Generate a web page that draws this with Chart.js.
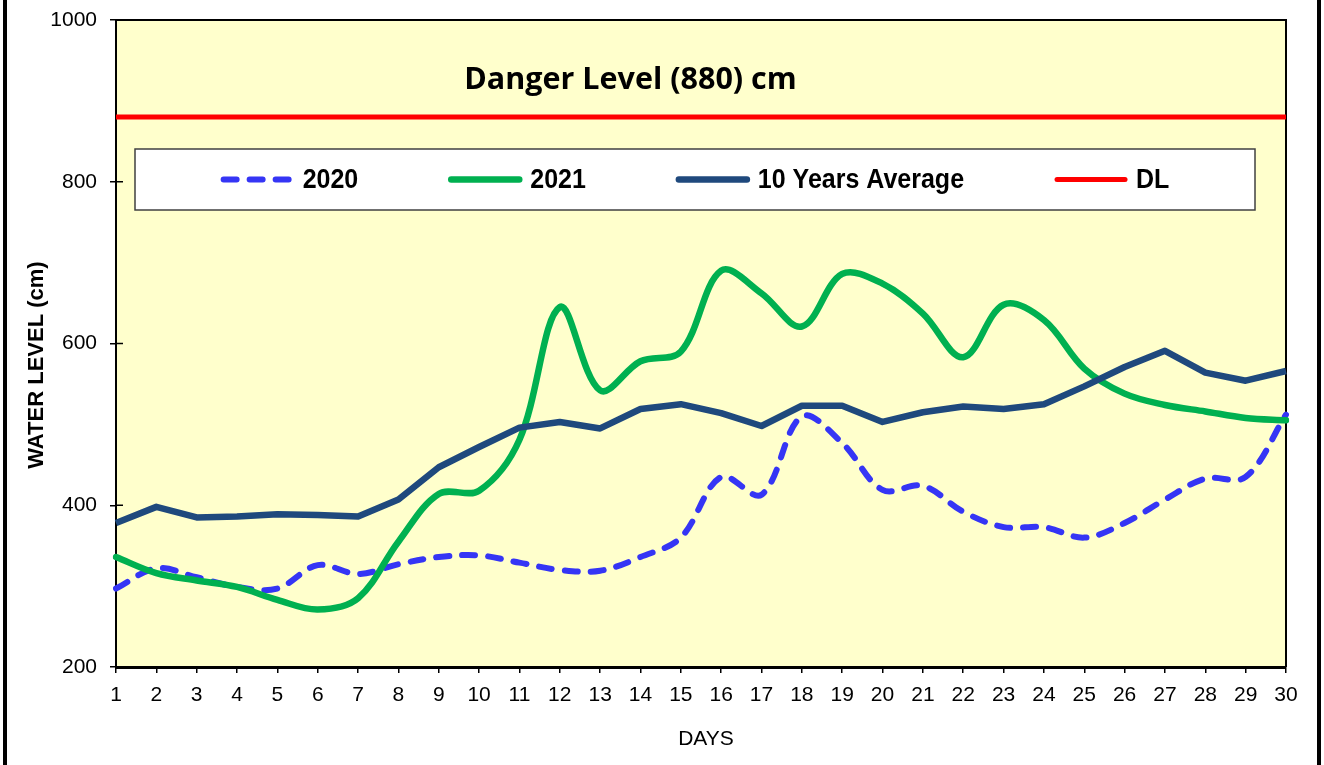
<!DOCTYPE html>
<html><head><meta charset="utf-8">
<script src="https://cdn.jsdelivr.net/npm/chart.js@4.4.1/dist/chart.umd.min.js"></script>
<style>html,body{margin:0;padding:0;background:#fff;}canvas{display:block;}</style>
</head><body>
<canvas id="c" width="1324" height="765"></canvas>
<script>
const days = ['1','2','3','4','5','6','7','8','9','10','11','12','13','14','15','16','17','18','19','20','21','22','23','24','25','26','27','28','29','30'];
const series2020 = [297,322,311,299,297,326,315,327,336,338,329,320,319,336,360,435,413,510,477,419,424,392,373,373,360,378,407,433,435,512];
const series2021 = [336,316,307,299,283,271,285,355,414,418,481,645,542,578,590,690,662,621,686,674,637,583,648,629,569,538,524,516,508,505];
const tenYearAvg = [378,398,385,386,389,388,386,407,447,472,496,503,495,519,525,514,498,523,523,503,515,522,519,525,547,571,591,564,554,566];
const dangerLevel = 880;
const dangerSeries = days.map(() => dangerLevel);
const seriesNames = ['2020','2021','10 Years Average','DL'];
const yMin = 200, yMax = 1000, yStep = 200;
const dangerText = 'Danger Level (880) cm';
const xTitle = 'DAYS';
const yTitle = 'WATER LEVEL (cm)';

const ARIAL = '"Liberation Sans", Arial, sans-serif';
const DFONT = '"Open Sans", Lato, sans-serif';

const deco = {
  id: 'deco',
  beforeDraw(chart) {
    const {ctx, chartArea: a} = chart;
    ctx.save();
    ctx.fillStyle = '#fff';
    ctx.fillRect(0, 0, chart.width, chart.height);
    ctx.fillStyle = '#FFFFCC';
    ctx.fillRect(a.left, a.top, a.right - a.left, a.bottom - a.top);
    ctx.fillStyle = '#000';
    ctx.fillRect(3, 0, 4, chart.height);
    ctx.fillRect(1317, 0, 4, chart.height);
    ctx.restore();
  },
  beforeDatasetsDraw(chart) {
    const {ctx, chartArea: a, scales} = chart;
    ctx.save();
    ctx.strokeStyle = '#000';
    ctx.lineWidth = 2;
    ctx.beginPath();
    ctx.moveTo(a.left, a.top);
    ctx.lineTo(a.right, a.top);
    ctx.lineTo(a.right, a.bottom);
    ctx.stroke();
    ctx.lineWidth = 1.5;
    scales.y.ticks.forEach(t => {
      const y = scales.y.getPixelForValue(t.value);
      ctx.beginPath();
      ctx.moveTo(a.left, y);
      ctx.lineTo(a.left + 7, y);
      ctx.stroke();
    });
    ctx.restore();
  },
  afterDraw(chart) {
    const {ctx} = chart;
    ctx.save();
    ctx.fillStyle = '#000';
    ctx.textAlign = 'center';
    ctx.textBaseline = 'middle';
    ctx.font = '21px ' + ARIAL;
    ctx.fillText(xTitle, 706, 739);
    ctx.save();
    ctx.translate(37, 365);
    ctx.rotate(-Math.PI / 2);
    ctx.font = 'bold 22px ' + ARIAL;
    ctx.fillText(yTitle, 0, 0);
    ctx.restore();

    ctx.font = 'bold 28px ' + DFONT;
    const w0 = ctx.measureText(dangerText).width;
    const sz = Math.min(31, 28 * 333 / w0);
    ctx.font = 'bold ' + sz.toFixed(1) + 'px ' + DFONT;
    ctx.textBaseline = 'alphabetic';
    ctx.fillText(dangerText, 630.5, 89);

    const box = {x: 135, y: 149, w: 1120, h: 61};
    ctx.fillStyle = '#fff';
    ctx.fillRect(box.x, box.y, box.w, box.h);
    ctx.strokeStyle = '#404040';
    ctx.lineWidth = 1.5;
    ctx.strokeRect(box.x, box.y, box.w, box.h);
    ctx.font = 'bold 25px ' + ARIAL;
    const lineLen = 74, gapTxt = 8, gapItem = 90;
    const ds = chart.data.datasets;
    const widths = ds.map(d => lineLen + gapTxt + ctx.measureText(d.label).width);
    const total = widths.reduce((s, v) => s + v, 0) + gapItem * (ds.length - 1);
    let x = box.x + (box.w - total) / 2;
    const cy = box.y + box.h / 2;
    ds.forEach((d, i) => {
      ctx.strokeStyle = d.borderColor;
      ctx.lineWidth = d.borderWidth;
      ctx.lineCap = 'round';
      ctx.setLineDash(d.borderDash || []);
      ctx.beginPath();
      ctx.moveTo(x + 3, cy);
      ctx.lineTo(x + lineLen - 3, cy);
      ctx.stroke();
      ctx.setLineDash([]);
      ctx.fillStyle = '#000';
      ctx.textAlign = 'left';
      ctx.textBaseline = 'middle';
      ctx.save();
      ctx.translate(x + lineLen + gapTxt, cy + 1);
      ctx.scale(1, 1.12);
      ctx.fillText(d.label, 0, 0);
      ctx.restore();
      x += widths[i] + gapItem;
    });
    ctx.restore();
  }
};

new Chart(document.getElementById('c'), {
  type: 'line',
  data: {
    labels: days,
    datasets: [
      {label: seriesNames[0], data: series2020, borderColor: '#3535F5', borderWidth: 6, borderDash: [13, 13], borderCapStyle: 'round', tension: 0.35, pointRadius: 0, order: 4},
      {label: seriesNames[1], data: series2021, borderColor: '#00B050', borderWidth: 6.5, tension: 0.35, pointRadius: 0, order: 3, borderCapStyle: 'round'},
      {label: seriesNames[2], data: tenYearAvg, borderColor: '#1F497D', borderWidth: 6.5, tension: 0, pointRadius: 0, order: 2, borderJoinStyle: 'round'},
      {label: seriesNames[3], data: dangerSeries, borderColor: '#FF0000', borderWidth: 5, tension: 0, pointRadius: 0, order: 1}
    ]
  },
  options: {
    responsive: false,
    animation: false,
    devicePixelRatio: 1,
    layout: {padding: {left: 8, right: 38, top: 20, bottom: 0}},
    plugins: {legend: {display: false}, tooltip: {enabled: false}, title: {display: false}},
    scales: {
      x: {
        type: 'category',
        offset: false,
        afterFit(s) { s.height = 98; },
        grid: {drawOnChartArea: false, drawTicks: true, tickLength: 6, color: '#000', lineWidth: 1.5},
        border: {display: true, color: '#000', width: 3},
        ticks: {color: '#000', font: {family: ARIAL, size: 21}, padding: 10, maxRotation: 0, autoSkip: false}
      },
      y: {
        min: yMin, max: yMax,
        afterFit(s) { s.width = 108; s.paddingTop = 0; s.paddingBottom = 0; },
        grid: {drawOnChartArea: false, drawTicks: true, tickLength: 6, color: '#000', lineWidth: 1.5},
        border: {display: true, color: '#000', width: 2},
        ticks: {stepSize: yStep, color: '#000', font: {family: ARIAL, size: 21, lineHeight: 0.9}, padding: 13,
                callback: v => String(v)}
      }
    }
  },
  plugins: [deco]
});
</script>
</body></html>
